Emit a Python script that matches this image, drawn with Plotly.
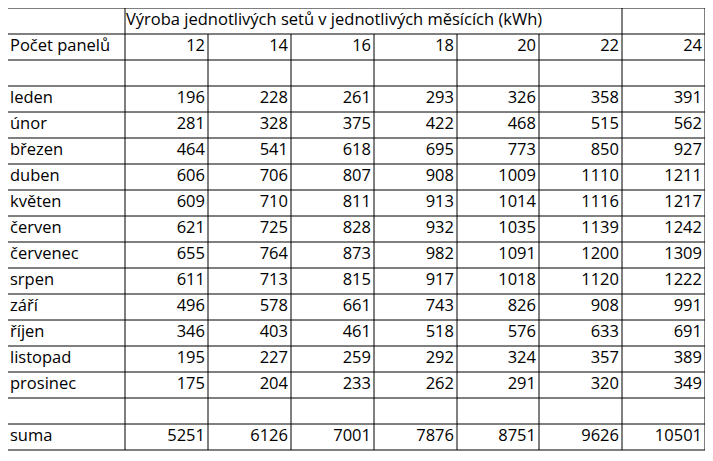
import plotly.graph_objects as go

title = "Výroba jednotlivých setů v jednotlivých měsících (kWh)"
header_label = "Počet panelů"
panels = [12, 14, 16, 18, 20, 22, 24]
months = ["leden", "únor", "březen", "duben", "květen", "červen", "červenec",
          "srpen", "září", "říjen", "listopad", "prosinec"]
values = [
    [196, 228, 261, 293, 326, 358, 391],
    [281, 328, 375, 422, 468, 515, 562],
    [464, 541, 618, 695, 773, 850, 927],
    [606, 706, 807, 908, 1009, 1110, 1211],
    [609, 710, 811, 913, 1014, 1116, 1217],
    [621, 725, 828, 932, 1035, 1139, 1242],
    [655, 764, 873, 982, 1091, 1200, 1309],
    [611, 713, 815, 917, 1018, 1120, 1222],
    [496, 578, 661, 743, 826, 908, 991],
    [346, 403, 461, 518, 576, 633, 691],
    [195, 227, 259, 292, 324, 357, 389],
    [175, 204, 233, 262, 291, 320, 349],
]
sum_label = "suma"
sums = [5251, 6126, 7001, 7876, 8751, 9626, 10501]

W, H = 713, 461
top, rh = 8, 26
xs = [5, 123, 206, 289, 372, 455, 537, 620, 703]
nrows = 17

rows = []
rows.append((header_label, [str(p) for p in panels]))
rows.append(("", None))
for m, v in zip(months, values):
    rows.append((m, [str(x) for x in v]))
rows.append(("", None))
rows.append((sum_label, [str(s) for s in sums]))

shapes = []
lw = dict(color="black", width=1)
for r in range(nrows + 1):
    y = top + r * rh
    shapes.append(dict(type="line", x0=xs[0], x1=xs[-1], y0=y, y1=y, line=lw))
for i, x in enumerate(xs):
    y0 = top
    if 2 <= i <= 6:
        y0 = top + rh
    shapes.append(dict(type="line", x0=x, x1=x, y0=y0, y1=top + nrows * rh, line=lw))

fig = go.Figure()
lx, ly, rx, ry, rt = [], [], [], [], []
for r, (lab, vals) in enumerate(rows, start=1):
    yc = top + r * rh + rh / 2
    if lab:
        lx.append(xs[0] + 3); ly.append(yc)
    if vals:
        for j, t in enumerate(vals):
            rx.append(xs[j + 2] - 3); ry.append(yc); rt.append(t)
labels = [lab for lab, _ in rows if lab]
font = dict(family="Open Sans", size=16.5, color="black")
fig.add_trace(go.Scatter(x=[xs[1] + 1], y=[top + rh / 2], mode="text", text=[title],
                         textposition="middle right", textfont=font, hoverinfo="skip"))
fig.add_trace(go.Scatter(x=lx, y=ly, mode="text", text=labels,
                         textposition="middle right", textfont=font, hoverinfo="skip"))
fig.add_trace(go.Scatter(x=rx, y=ry, mode="text", text=rt,
                         textposition="middle left", textfont=font, hoverinfo="skip"))

fig.update_layout(width=W, height=H, margin=dict(l=0, r=0, t=0, b=0),
                  paper_bgcolor="white", plot_bgcolor="white", showlegend=False,
                  shapes=shapes)
fig.update_xaxes(range=[6, W + 6], visible=False, fixedrange=True)
fig.update_yaxes(range=[H + 8, 8], visible=False, fixedrange=True)
fig.write_html("out.html")
